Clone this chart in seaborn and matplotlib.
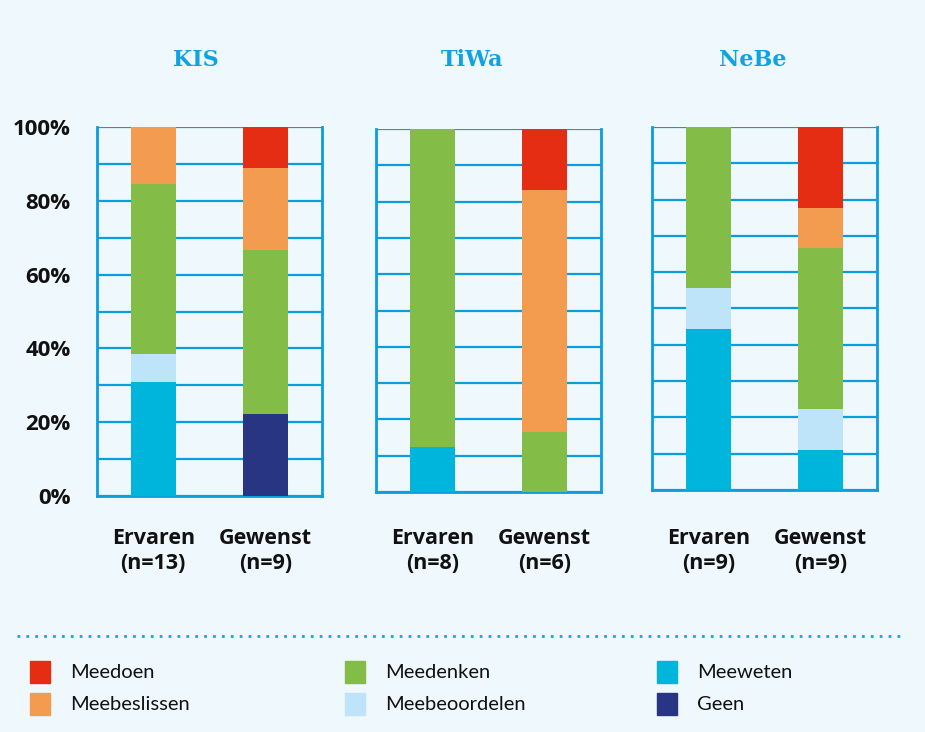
import matplotlib
matplotlib.use("Agg")
import matplotlib.pyplot as plt
import pandas as pd
import seaborn as sns

# counts per answer category (stacked bottom -> top)
groups = ["KIS", "TiWa", "NeBe"]
conditions = ["Ervaren", "Gewenst"]
n_resp = {"KIS": [13, 9], "TiWa": [8, 6], "NeBe": [9, 9]}

categories = ["Geen", "Meeweten", "Meebeoordelen", "Meedenken", "Meebeslissen", "Meedoen"]
kis_ervaren = [0, 4, 1, 6, 2, 0]
kis_gewenst = [2, 0, 0, 4, 2, 1]
tiwa_ervaren = [0, 1, 0, 7, 0, 0]
tiwa_gewenst = [0, 0, 0, 1, 4, 1]
nebe_ervaren = [0, 4, 1, 4, 0, 0]
nebe_gewenst = [0, 1, 1, 4, 1, 2]

colors = {
    "Meedoen": "#e52d13",
    "Meebeslissen": "#f39b4e",
    "Meedenken": "#84bc48",
    "Meebeoordelen": "#bde4f8",
    "Meeweten": "#00b5dc",
    "Geen": "#283583",
}
legend_order = ["Meedoen", "Meedenken", "Meeweten", "Meebeslissen", "Meebeoordelen", "Geen"]

BG = "#eff8fc"
BLUE = "#0a9de0"

counts = {
    "KIS": [kis_ervaren, kis_gewenst],
    "TiWa": [tiwa_ervaren, tiwa_gewenst],
    "NeBe": [nebe_ervaren, nebe_gewenst],
}

rows = []
for g in groups:
    for cond, vals, n in zip(conditions, counts[g], n_resp[g]):
        cum = 0
        for cat, v in zip(categories, vals):
            cum += v
            rows.append({"group": g, "cond": cond, "cat": cat, "cum": 100 * cum / n})
df = pd.DataFrame(rows)

sns.set_theme(style="white")
plt.rcParams["font.family"] = ["Open Sans", "DejaVu Sans"]

fig = plt.figure(figsize=(9.25, 7.32), dpi=100, facecolor=BG)

# axes boxes in pixels (left, top, right, bottom)
boxes = [(97, 127, 322, 496), (376, 129, 601, 492), (652, 127, 877, 490)]
title_x = [196, 472, 753]

for i, g in enumerate(groups):
    l, t, r, b = boxes[i]
    ax = fig.add_axes([l / 925, 1 - b / 732, (r - l) / 925, (b - t) / 732])
    ax.set_facecolor(BG)
    sub = df[df.group == g]
    # draw cumulative tops from highest category down so lower segments paint over
    for cat in categories[::-1]:
        d = sub[sub.cat == cat]
        sns.barplot(data=d, x="cond", y="cum", order=conditions, color=colors[cat],
                    width=0.4, saturation=1, linewidth=0, ax=ax, zorder=3)
    ax.set_xlim(-0.5, 1.5)
    ax.set_ylim(0, 100)
    ax.set_yticks(range(0, 101, 10))
    ax.yaxis.grid(True, color=BLUE, linewidth=1.6)
    ax.set_axisbelow(True)
    if i == 0:
        ax.set_yticklabels([f"{v}%" if v % 20 == 0 else "" for v in range(0, 101, 10)],
                           fontsize=16, fontweight="bold", color="#111111")
        ax.tick_params(axis="y", length=0, pad=19)
    else:
        ax.set_yticklabels([])
        ax.tick_params(axis="y", length=0)
    ax.set_xticks([0, 1])
    ax.set_xticklabels([f"{c}\n(n={n})" for c, n in zip(conditions, n_resp[g])],
                       fontsize=15.5, fontweight="bold", linespacing=1.25, color="#111111")
    ax.tick_params(axis="x", which="major", length=0, pad=23 + (496 - b) * 0.72)
    ax.set_xticks([-0.5, 0.5, 1.5], minor=True)
    ax.tick_params(axis="x", which="minor", length=6, width=1.8, color=BLUE, direction="out")
    ax.set_xlabel("")
    ax.set_ylabel("")
    for side in ["left", "right", "bottom"]:
        ax.spines[side].set_visible(True)
        ax.spines[side].set_color(BLUE)
        ax.spines[side].set_linewidth(2)
    ax.spines["top"].set_visible(False)

    fig.text(title_x[i] / 925, 1 - 60 / 732, g, ha="center", va="center", fontsize=16,
             fontweight="bold", color="#12a2e4", family="DejaVu Serif")

# dotted separator
fig.add_artist(plt.Line2D([17 / 925, 905 / 925], [1 - 636 / 732] * 2, transform=fig.transFigure,
                          color="#12a8e4", linestyle=(0, (1, 2.2)), linewidth=2))

# legend, three columns
col_x = [30, 345, 657]
row_y = [672, 704]
for k, cat in enumerate(legend_order):
    cx = col_x[k % 3]
    cy = row_y[k // 3]
    fig.patches.append(plt.Rectangle((cx / 925, 1 - (cy + 11) / 732), 20 / 925, 22 / 732,
                                     transform=fig.transFigure, color=colors[cat]))
    fig.text((cx + 40) / 925, 1 - cy / 732, cat, ha="left", va="center", fontsize=14.5,
             color="#111111", family=["Lato", "DejaVu Sans"])

fig.savefig("out.png", dpi=100, facecolor=BG)
